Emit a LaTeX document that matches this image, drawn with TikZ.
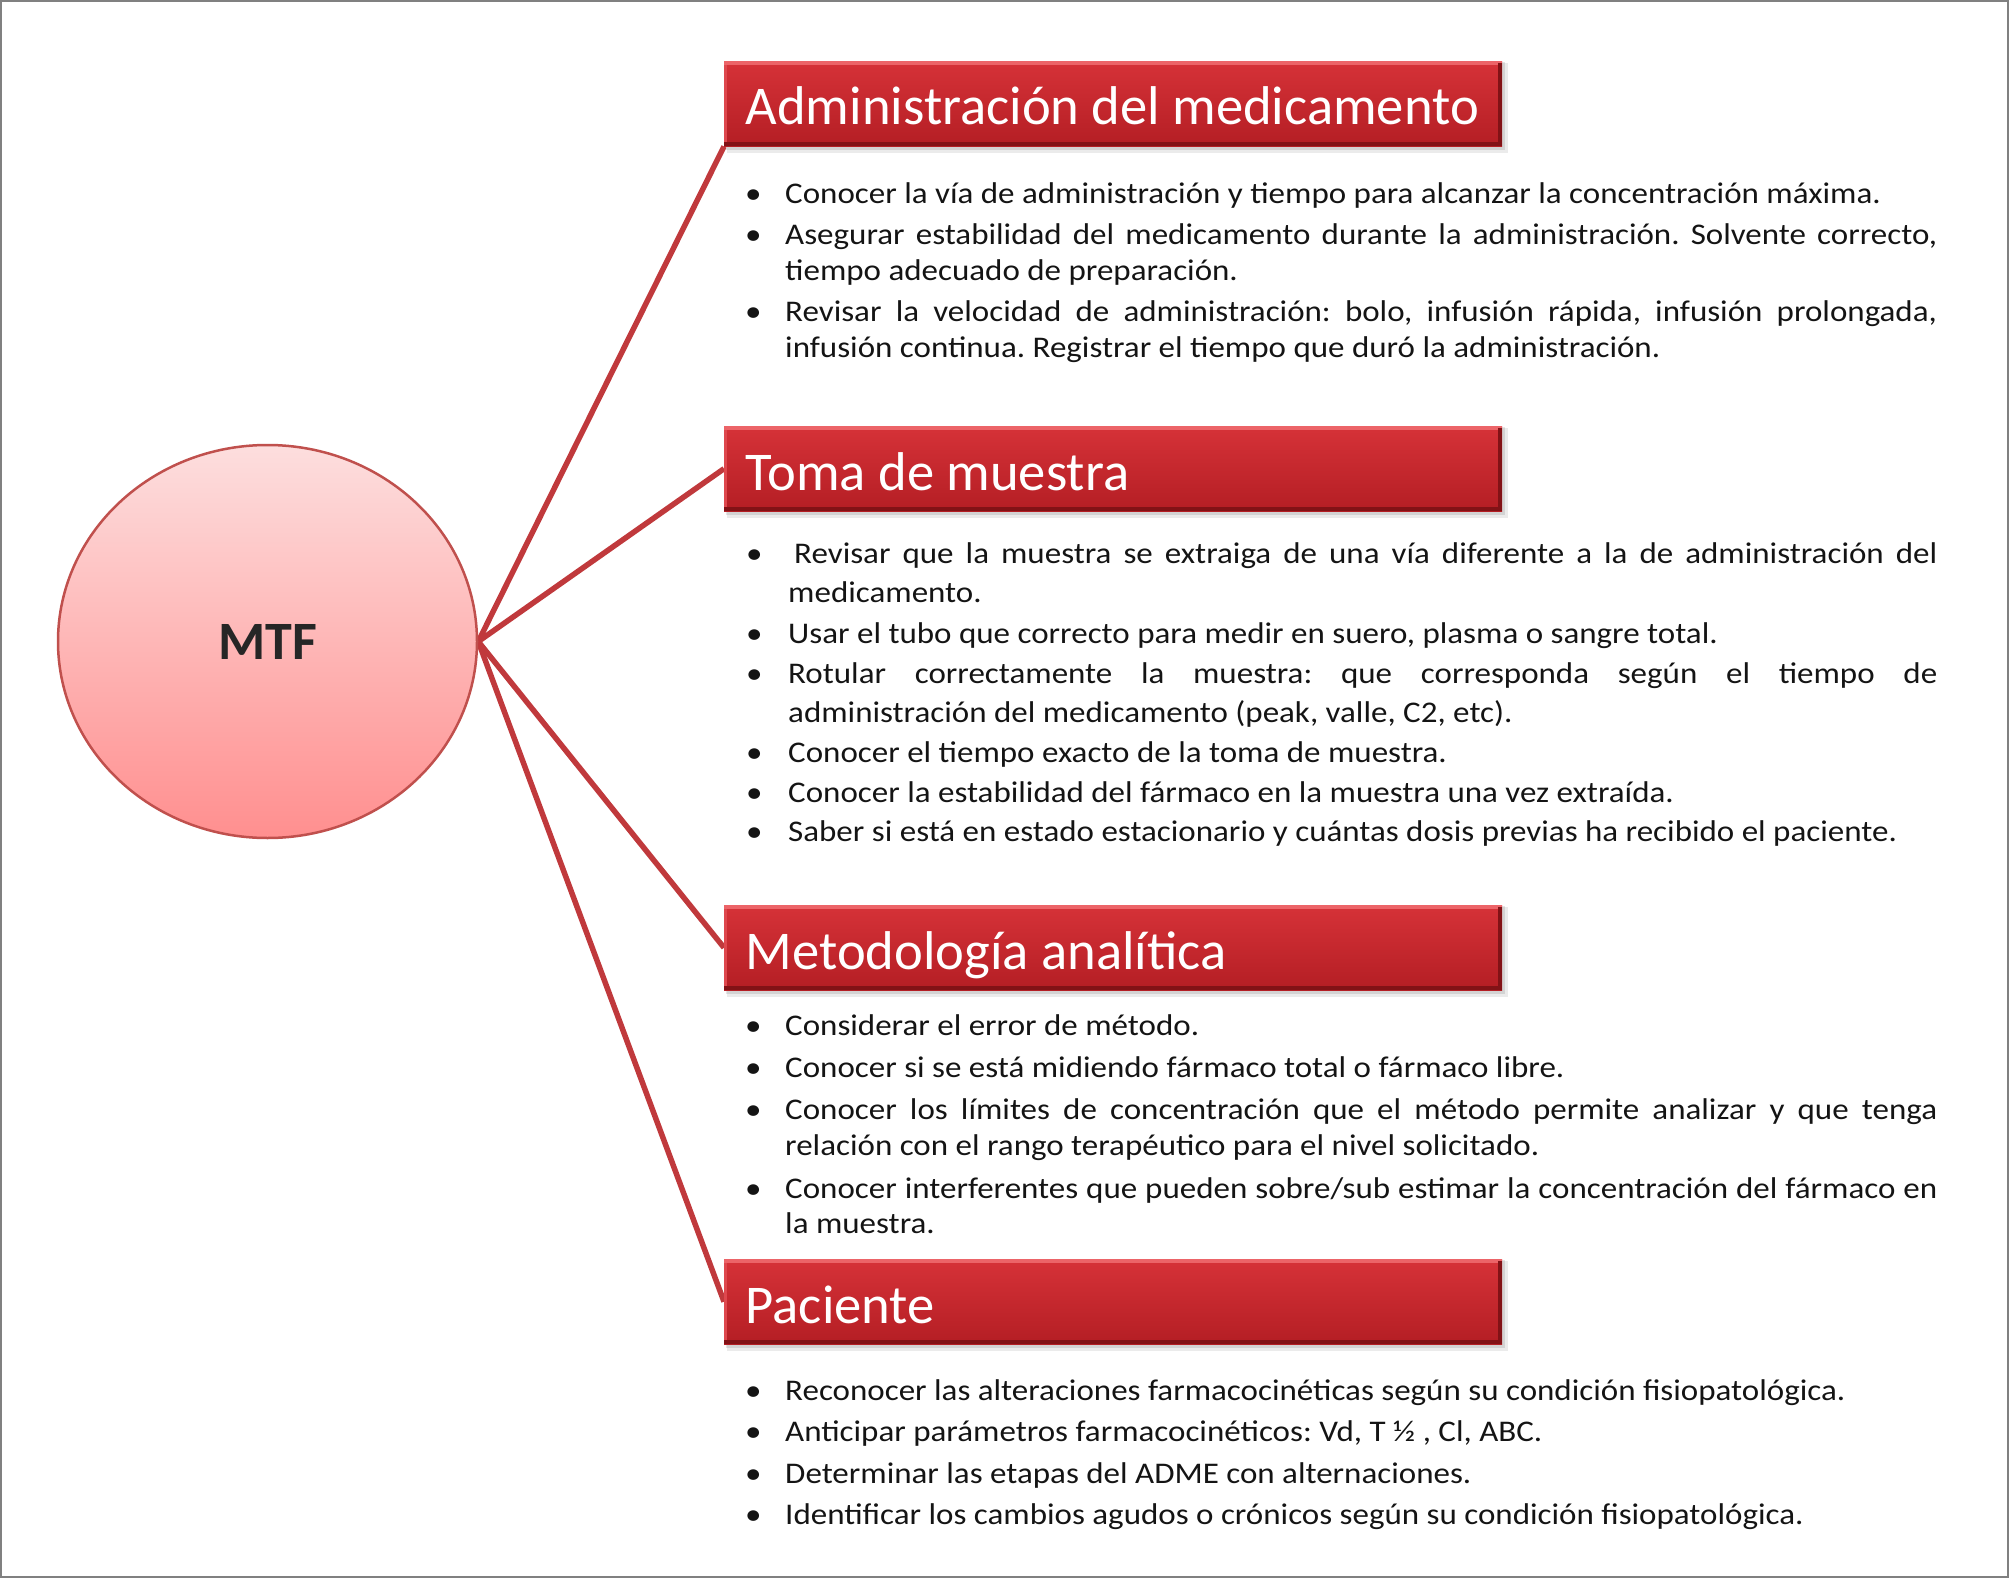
\documentclass[tikz,border=0pt]{standalone}
\usepackage{fontspec}
\setmainfont{Carlito}
\newfontfamily\bodyfont{Carlito}[FakeStretch=1.10]
\usetikzlibrary{shapes.geometric,backgrounds}
\definecolor{hdrtop}{RGB}{214,50,56}
\definecolor{hdrbot}{RGB}{180,30,36}
\definecolor{hdrlight}{RGB}{236,100,104}
\definecolor{hdrlightb}{RGB}{222,72,78}
\definecolor{hdrdark}{RGB}{130,18,22}
\definecolor{connred}{RGB}{192,57,60}
\definecolor{circtop}{RGB}{253,222,222}
\definecolor{circbot}{RGB}{255,143,143}
\definecolor{circedge}{RGB}{192,80,77}
\definecolor{bodytext}{RGB}{20,20,20}
\definecolor{frame}{RGB}{128,128,128}
\frenchspacing
\newcommand{\jl}[1]{\makebox[\linewidth][s]{#1}}
\newcommand{\itx}[3]{\parbox[t]{#1pt}{\frenchspacing\baselineskip=#2pt\lineskiplimit=-100pt #3}}
\newcommand{\header}[3]{%
  \fill[black,opacity=0.08] (727,{#2+2}) rectangle (1508,{#2+92});
  \fill[black,opacity=0.10] (726,{#2+1}) rectangle (1505,{#2+89});
  \node[hdr] (#1) at (724,#2) {};
  \fill[hdrlight] (#1.north west) rectangle ([yshift=-4pt]#1.north east);
  \fill[hdrlightb] ([yshift=-4pt]#1.north west) rectangle ([xshift=3pt]#1.south west);
  \fill[hdrdark] ([yshift=4pt]#1.south west) rectangle (#1.south east);
  \fill[hdrdark] ([xshift=-4pt,yshift=-2pt]#1.north east) rectangle (#1.south east);
  \node[hdrtitle] (#1t) at (745.5,{#2+64}) {#3};
}
\begin{document}
\begin{tikzpicture}[x=1pt,y=-1pt,
  hdr/.style={anchor=north west, minimum width=778pt, minimum height=85pt, inner sep=0pt,
    top color=hdrtop, bottom color=hdrbot, draw=none},
  hdrtitle/.style={anchor=base west, inner sep=0pt, text=white,
    font=\fontsize{54.6pt}{60pt}\selectfont},
  bul/.style={anchor=base west, inner sep=0pt, text=bodytext,
    font=\bodyfont\fontsize{30pt}{36pt}\selectfont},
  itm/.style={anchor=base west, inner sep=0pt, text=bodytext, align=left,
    font=\bodyfont\fontsize{30pt}{36pt}\selectfont},
  conn/.style={draw=connred, line width=5.5pt},
  circ/.style={ellipse, minimum width=419pt, minimum height=393pt, inner sep=0pt,
    draw=circedge, line width=2.5pt, top color=circtop, bottom color=circbot,
    text=black!85, font=\bfseries\fontsize{54pt}{60pt}\selectfont}
]
\useasboundingbox (0,0) rectangle (2009,1578);
\draw[frame, line width=2pt] (1,1) rectangle (2008,1577);

\node[circ] (mtf) at (267.5,641.5) {MTF};

\header{h1}{61}{Administración del medicamento}
\header{h2}{426}{Toma de muestra}
\header{h3}{905}{Metodología analítica}
\header{h4}{1259}{Paciente}

\begin{scope}[on background layer]
\draw[conn] (mtf.east) -- (h1.south west);
\draw[conn] (mtf.east) -- (h2.west);
\draw[conn] (mtf.east) -- (h3.west);
\draw[conn] (mtf.east) -- (h4.west);
\end{scope}

% Section 1
\node[bul] (b1a) at (745,203.8) {•};
\node[itm] (t1a) at (785,203.8) {\itx{1152}{36}{Conocer la vía de administración y tiempo para alcanzar la concentración máxima.}};
\node[bul] (b1b) at (745,244.8) {•};
\node[itm] (t1b) at (785,244.8) {\itx{1152}{35.8}{\jl{Asegurar estabilidad del medicamento durante la administración. Solvente correcto,}\par tiempo adecuado de preparación.}};
\node[bul] (b1c) at (745,321.6) {•};
\node[itm] (t1c) at (785,321.6) {\itx{1152}{35.9}{\jl{Revisar la velocidad de administración: bolo, infusión rápida, infusión prolongada,}\par infusión continua. Registrar el tiempo que duró la administración.}};

% Section 2
\node[bul] (b2a) at (746,563.8) {•};
\node[itm] (t2a) at (788,563.8) {\itx{1149}{38.2}{\jl{\hspace*{6pt}Revisar que la muestra se extraiga de una vía diferente a la de administración del}\par medicamento.}};
\node[bul] (b2b) at (746,643) {•};
\node[itm] (t2b) at (788,643) {\itx{1149}{36}{Usar el tubo que correcto para medir en suero, plasma o sangre total.}};
\node[bul] (b2c) at (746,683) {•};
\node[itm] (t2c) at (788,683) {\itx{1149}{39.7}{\jl{Rotular correctamente la muestra: que corresponda según el tiempo de}\par administración del medicamento (peak, valle, C2, etc).}};
\node[bul] (b2d) at (746,762.4) {•};
\node[itm] (t2d) at (788,762.4) {\itx{1149}{36}{Conocer el tiempo exacto de la toma de muestra.}};
\node[bul] (b2e) at (746,802) {•};
\node[itm] (t2e) at (788,802) {\itx{1149}{36}{Conocer la estabilidad del fármaco en la muestra una vez extraída.}};
\node[bul] (b2f) at (746,841.8) {•};
\node[itm] (t2f) at (788,841.8) {\itx{1149}{36}{Saber si está en estado estacionario y cuántas dosis previas ha recibido el paciente.}};

% Section 3
\node[bul] (b3a) at (745,1035.3) {•};
\node[itm] (t3a) at (785,1035.3) {\itx{1152}{36}{Considerar el error de método.}};
\node[bul] (b3b) at (745,1077.6) {•};
\node[itm] (t3b) at (785,1077.6) {\itx{1152}{36}{Conocer si se está midiendo fármaco total o fármaco libre.}};
\node[bul] (b3c) at (745,1119.9) {•};
\node[itm] (t3c) at (785,1119.9) {\itx{1152}{35.8}{\jl{Conocer los límites de concentración que el método permite analizar y que tenga}\par relación con el rango terapéutico para el nivel solicitado.}};
\node[bul] (b3d) at (745,1198) {•};
\node[itm] (t3d) at (785,1198) {\itx{1152}{35.9}{\jl{Conocer interferentes que pueden sobre/sub estimar la concentración del fármaco en}\par la muestra.}};

% Section 4
\node[bul] (b4a) at (745,1400.5) {•};
\node[itm] (t4a) at (785,1400.5) {\itx{1152}{36}{Reconocer las alteraciones farmacocinéticas según su condición fisiopatológica.}};
\node[bul] (b4b) at (745,1441.5) {•};
\node[itm] (t4b) at (785,1441.5) {\itx{1152}{36}{Anticipar parámetros farmacocinéticos: Vd, T ½ , Cl, ABC.}};
\node[bul] (b4c) at (745,1483.7) {•};
\node[itm] (t4c) at (785,1483.7) {\itx{1152}{36}{Determinar las etapas del ADME con alternaciones.}};
\node[bul] (b4d) at (745,1524.7) {•};
\node[itm] (t4d) at (785,1524.7) {\itx{1152}{36}{Identificar los cambios agudos o crónicos según su condición fisiopatológica.}};
\end{tikzpicture}
\end{document}
